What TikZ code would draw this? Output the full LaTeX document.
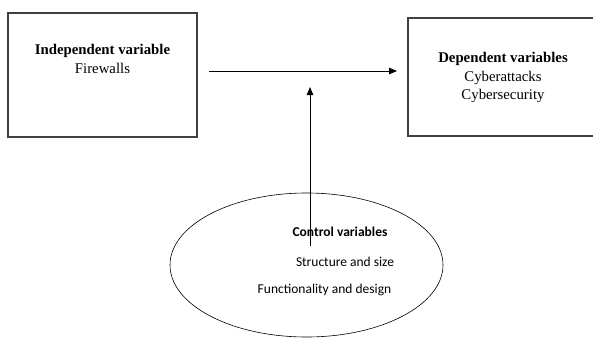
\documentclass[tikz,border=0pt]{standalone}
\usepackage{fontspec}
\setmainfont{Liberation Serif}
\newfontfamily\calibrifont{Carlito}
\usetikzlibrary{arrows.meta, shapes.geometric, positioning}

\begin{document}
\begin{tikzpicture}[
  x=1pt, y=-1pt,
  varbox/.style={rectangle, draw=black!75, line width=1.1pt, fill=none,
                 inner sep=0pt},
  vartext/.style={align=center, font=\fontsize{14.8}{18.7}\selectfont, inner sep=0pt},
  ctlshape/.style={ellipse, draw=black, line width=0.6pt, inner sep=0pt,
                   minimum width=273pt, minimum height=144pt},
  ctltext/.style={font=\calibrifont\fontsize{13.5}{15}\selectfont, inner sep=0pt},
  arr/.style={-{Triangle[length=8pt, width=6.5pt]}, line width=0.9pt}
]
\useasboundingbox (0,0) rectangle (593,337);

\node[varbox, minimum width=189pt, minimum height=124pt] (ind) at (102.5,75) {};
\node[varbox, minimum width=200pt, minimum height=118pt] (dep) at (508,77) {};
\node[ctlshape] (ctl) at (306.5,265) {};

% box texts
\node[vartext, below=32pt of ind.north] (indtxt) {\textbf{Independent variable}\\Firewalls};
\node[vartext, anchor=north] (deptxt) at (503,52) {\textbf{Dependent variables}\\Cyberattacks\\Cybersecurity};

% ellipse texts
\node[ctltext] (ctl1) at (340,232) {\textbf{Control variables}};
\node[ctltext] (ctl2) at (345,262) {Structure and size};
\node[ctltext] (ctl3) at (324.5,290) {Functionality and design};

\coordinate (hstart) at (209,71);
\coordinate (hend)   at (397,71);
\coordinate (vstart) at (310,246);
\coordinate (vend)   at (310,87);

\draw[arr] (hstart) -- (hend);
\draw[arr] (vstart) -- (vend);

\end{tikzpicture}
\end{document}
